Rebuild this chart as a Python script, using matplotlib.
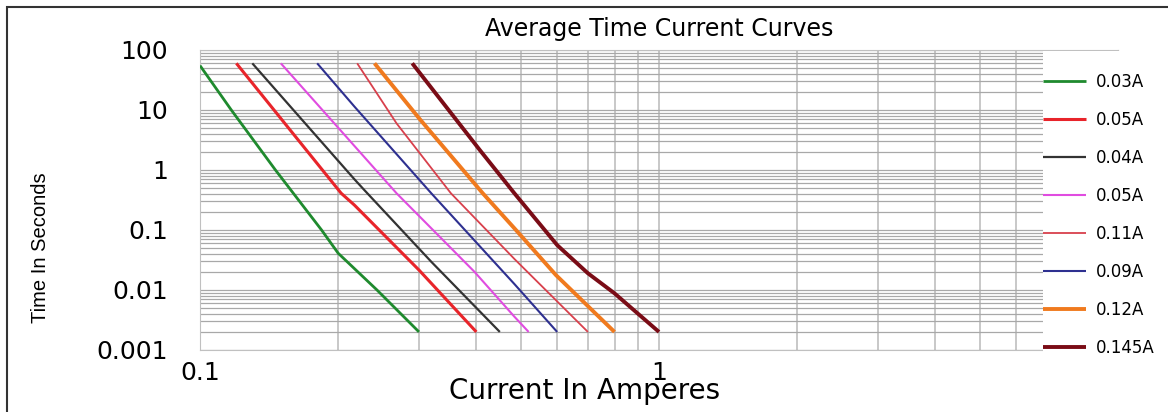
import matplotlib
matplotlib.use('Agg')
import matplotlib.pyplot as plt
from matplotlib.patches import Rectangle

# curves (current in A, time in s)
labels = ['0.03A', '0.05A', '0.04A', '0.05A', '0.11A', '0.09A', '0.12A', '0.145A']
colors = ['#1f8a2e', '#e8242a', '#333333', '#e04ce0', '#d8404c', '#2e3090', '#f07a1e', '#7a0c16']
widths = [2.0, 2.2, 1.6, 1.5, 1.3, 1.5, 2.8, 2.8]

x_003 = [0.1, 0.117, 0.146, 0.184, 0.2, 0.243, 0.3]
t_003 = [55, 10, 1, 0.1, 0.041, 0.01, 0.002]
x_005a = [0.12, 0.203, 0.217, 0.3, 0.4]
t_005a = [60, 0.41, 0.26, 0.0215, 0.002]
x_004 = [0.13, 0.217, 0.228, 0.319, 0.45]
t_004 = [60, 0.70, 0.464, 0.0296, 0.002]
x_005b = [0.15, 0.268, 0.396, 0.484, 0.52]
t_005b = [60, 0.41, 0.0202, 0.0036, 0.002]
x_011 = [0.22, 0.268, 0.352, 0.484, 0.7]
t_011 = [60, 6.0, 0.41, 0.033, 0.002]
x_009 = [0.18, 0.217, 0.319, 0.484, 0.6]
t_009 = [60, 11.4, 0.41, 0.0126, 0.002]
x_012 = [0.24, 0.3, 0.413, 0.484, 0.596, 0.8]
t_012 = [60, 7.3, 0.41, 0.107, 0.0178, 0.002]
x_0145 = [0.29, 0.407, 0.484, 0.6, 0.7, 0.8, 1.0]
t_0145 = [60, 2.15, 0.41, 0.056, 0.019, 0.0088, 0.002]

xs = [x_003, x_005a, x_004, x_005b, x_011, x_009, x_012, x_0145]
ts = [t_003, t_005a, t_004, t_005b, t_011, t_009, t_012, t_0145]

yticks = [0.001, 0.01, 0.1, 1, 10, 100]
ytick_labels = ['0.001', '0.01', '0.1', '1', '10', '100']
xticks = [0.1, 1, 10]
xtick_labels = ['0.1', '1', '10']

fig = plt.figure(figsize=(11.68, 4.12), dpi=100)
ax = fig.add_axes([200 / 1168, 1 - 350 / 412, 918 / 1168, 300 / 412])

for x, t, lab, c, w in zip(xs, ts, labels, colors, widths):
    ax.plot(x, t, color=c, lw=w, label=lab, solid_capstyle='butt', zorder=3)

ax.set_xscale('log')
ax.set_yscale('log')
ax.set_xlim(0.1, 10)
ax.set_ylim(0.001, 100)
ax.set_yticks(yticks)
ax.set_yticklabels(ytick_labels)
ax.set_xticks(xticks)
ax.set_xticklabels(xtick_labels)
ax.tick_params(which='both', length=0)
ax.tick_params(axis='y', labelsize=18, pad=23)
ax.tick_params(axis='x', labelsize=18, pad=8)

ax.xaxis.grid(True, which='both', color='#c4c4c4', lw=1.3)
ax.yaxis.grid(True, which='both', color='#a8a8a8', lw=0.9)
ax.set_axisbelow(True)
for s in ['left', 'bottom', 'top', 'right']:
    ax.spines[s].set_color('#c0c0c0')

ax.set_title('Average Time Current Curves', fontsize=17, pad=10)
ax.set_xlabel('Current In Amperes', fontsize=20)
ax.xaxis.set_label_coords(0.419, -0.09)
ax.set_ylabel('Time In Seconds', fontsize=14.5, family=['Liberation Sans', 'DejaVu Sans'])
ax.yaxis.set_label_coords(-0.163, 0.34)

# white panel behind the legend, covering the right part of the plot
fig.add_artist(Rectangle((1043 / 1168, 1 - 380 / 412), 0.2, 329 / 412,
                         transform=fig.transFigure, facecolor='white',
                         edgecolor='none', zorder=4))
fig.legend(loc='upper left', bbox_to_anchor=(1028 / 1168, 1 - 58 / 412),
           frameon=False, fontsize=12, handlelength=2.6, handletextpad=0.6,
           labelspacing=1.2)

# outer border
fig.add_artist(Rectangle((7 / 1168, -0.1), 1.2, 1.1 - 7 / 412,
                         transform=fig.transFigure, fill=False,
                         edgecolor='#333333', lw=1.5))

fig.savefig('out.png', dpi=100)
